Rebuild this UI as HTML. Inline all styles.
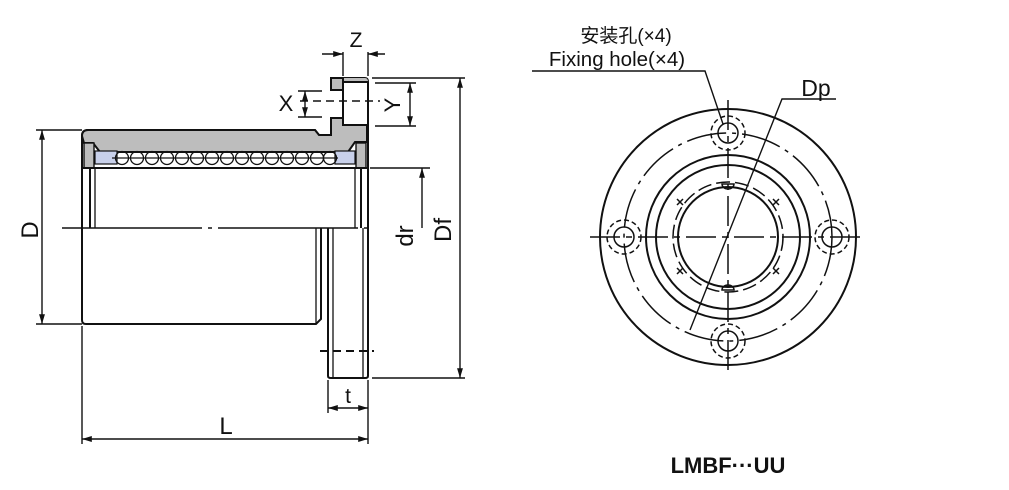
<!DOCTYPE html>
<html><head><meta charset="utf-8"><style>
html,body{margin:0;padding:0;background:#fff;width:1009px;height:490px;overflow:hidden}
svg{display:block}
text{font-family:"Liberation Sans","Noto Sans CJK SC",sans-serif;fill:#111}
</style></head><body>
<svg width="1009" height="490" viewBox="0 0 1009 490" xmlns="http://www.w3.org/2000/svg">
<defs>
<marker id="a" viewBox="0 0 10 10" refX="10" refY="5" markerWidth="7" markerHeight="7" orient="auto-start-reverse"><path d="M0,2 L10,5 L0,8 z" fill="#111"/></marker>
</defs>
<g stroke="#111" fill="none" stroke-width="2">
<path d="M82,228 L82,136 Q82,130 88,130 L315,130 L319,135 L331,135 L331,118 L343,118 L343,82 L331,82 L331,80 Q331,78 334,78 L365,78 Q368,78 368,82 L368,228" fill="none"/>
<path d="M82,136 Q82,130 88,130 L315,130 L319,135 L331,135 L331,118 L343,118 L343,125 L367,125 L367,142 L355,142 L348,152 L100,152 L93,143 L84,143 Z" fill="#bdbdbd"/>
<path d="M331,80 Q331,78 334,78 L365,78 Q368,78 368,82 L343,82 L331,82 Z" fill="#bdbdbd" stroke="none"/>
<rect x="331" y="78" width="12" height="12" fill="#bdbdbd"/>
<line x1="343" y1="82" x2="343" y2="125"/>
<line x1="343" y1="82" x2="368" y2="82"/>
<rect x="84" y="143" width="10" height="25" fill="#bdbdbd" stroke-width="1.4"/>
<rect x="356" y="143" width="10" height="25" fill="#bdbdbd" stroke-width="1.4"/>
<rect x="95" y="151" width="22" height="13" fill="#c8d0ea" stroke-width="1.2"/>
<rect x="335" y="151" width="20" height="13" fill="#c8d0ea" stroke-width="1.2"/>
<line x1="82" y1="168" x2="368" y2="168"/>
<line x1="90" y1="168" x2="90" y2="228"/>
<line x1="95" y1="168" x2="95" y2="228" stroke-width="1.3"/>
<line x1="355" y1="168" x2="355" y2="228" stroke-width="1.3"/>
<line x1="361" y1="168" x2="361" y2="228"/>
<g stroke-width="1.3">
<circle cx="122" cy="158" r="6.5"/><circle cx="137" cy="158" r="6.5"/><circle cx="152" cy="158" r="6.5"/><circle cx="167" cy="158" r="6.5"/><circle cx="182" cy="158" r="6.5"/><circle cx="197" cy="158" r="6.5"/><circle cx="212" cy="158" r="6.5"/><circle cx="227" cy="158" r="6.5"/><circle cx="242" cy="158" r="6.5"/><circle cx="257" cy="158" r="6.5"/><circle cx="272" cy="158" r="6.5"/><circle cx="287" cy="158" r="6.5"/><circle cx="302" cy="158" r="6.5"/><circle cx="317" cy="158" r="6.5"/><circle cx="330" cy="158" r="6.5"/>
<line x1="112" y1="158" x2="338" y2="158"/>
</g>
<path d="M82,228 L82,320 Q82,324 86,324 L316,324 L321,319 L321,228"/>
<line x1="316" y1="228" x2="316" y2="324" stroke-width="1.3"/>
<path d="M328,228 L328,376 Q328,378 331,378 L365,378 Q368,378 368,376 L368,228"/>
<line x1="333" y1="228" x2="333" y2="378" stroke-width="1.3"/>
<line x1="363" y1="228" x2="363" y2="378" stroke-width="1.3"/>
<line x1="320" y1="351" x2="374" y2="351" stroke-dasharray="8,5"/>
<line x1="300" y1="101" x2="380" y2="101" stroke-dasharray="8,5" stroke-width="1.4"/>
<line x1="62" y1="228" x2="372" y2="228" stroke-dasharray="140,6,4,6" stroke-width="1.5"/>
<g stroke-width="1.4">
<line x1="36" y1="130" x2="82" y2="130"/><line x1="36" y1="324" x2="82" y2="324"/>
<line x1="42" y1="130" x2="42" y2="324" marker-start="url(#a)" marker-end="url(#a)"/>
<line x1="82" y1="326" x2="82" y2="444"/><line x1="368" y1="380" x2="368" y2="444"/>
<line x1="82" y1="439" x2="368" y2="439" marker-start="url(#a)" marker-end="url(#a)"/>
<line x1="328" y1="380" x2="328" y2="413"/>
<line x1="328" y1="408" x2="368" y2="408" marker-start="url(#a)" marker-end="url(#a)"/>
<line x1="372" y1="78" x2="465" y2="78"/><line x1="372" y1="378" x2="465" y2="378"/>
<line x1="460" y1="78" x2="460" y2="378" marker-start="url(#a)" marker-end="url(#a)"/>
<line x1="370" y1="168" x2="430" y2="168"/>
<line x1="422" y1="228" x2="422" y2="168" marker-end="url(#a)"/>
<line x1="343" y1="52" x2="343" y2="76"/><line x1="368" y1="52" x2="368" y2="76"/>
<line x1="322" y1="54" x2="343" y2="54" marker-end="url(#a)"/><line x1="385" y1="54" x2="368" y2="54" marker-end="url(#a)"/>
<line x1="298" y1="91" x2="322" y2="91"/><line x1="298" y1="117" x2="322" y2="117"/>
<line x1="305" y1="91" x2="305" y2="117" marker-start="url(#a)" marker-end="url(#a)"/>
<line x1="375" y1="83" x2="416" y2="83"/><line x1="375" y1="126" x2="416" y2="126"/>
<line x1="410" y1="83" x2="410" y2="126" marker-start="url(#a)" marker-end="url(#a)"/>
</g>
</g>
<g font-size="24">
<text x="38" y="230" transform="rotate(-90 38 230)" text-anchor="middle">D</text>
<text x="226" y="434" text-anchor="middle">L</text>
<text x="348" y="403" text-anchor="middle" font-size="21">t</text>
<text x="356" y="47" text-anchor="middle" font-size="21">Z</text>
<text x="286" y="111" text-anchor="middle" font-size="22">X</text>
<text x="392" y="105" transform="rotate(-90 392 105)" text-anchor="middle" font-size="22" dy="8">Y</text>
<text x="413" y="236" transform="rotate(-90 413 236)" text-anchor="middle">dr</text>
<text x="451" y="230" transform="rotate(-90 451 230)" text-anchor="middle">Df</text>
</g>
<g stroke="#111" fill="none" stroke-width="2">
<circle cx="728" cy="237" r="128"/>
<circle cx="728" cy="237" r="104" stroke-dasharray="40,6,4,6" stroke-width="1.5"/>
<circle cx="728" cy="237" r="82"/>
<circle cx="728" cy="237" r="72"/>
<circle cx="728" cy="237" r="55" stroke-dasharray="14,5" stroke-width="1.5"/>
<circle cx="728" cy="237" r="50"/>
<g stroke-width="1.5">
<circle cx="728" cy="133" r="10"/><circle cx="728" cy="133" r="17" stroke-dasharray="5,3"/>
<circle cx="728" cy="341" r="10"/><circle cx="728" cy="341" r="17" stroke-dasharray="5,3"/>
<circle cx="624" cy="237" r="10"/><circle cx="624" cy="237" r="17" stroke-dasharray="5,3"/>
<circle cx="832" cy="237" r="10"/><circle cx="832" cy="237" r="17" stroke-dasharray="5,3"/>
<line x1="590" y1="237" x2="866" y2="237" stroke-dasharray="30,6,6,6"/>
<line x1="728" y1="100" x2="728" y2="374" stroke-dasharray="30,6,6,6"/>
<path d="M722,184 a6,5 0 0 0 12,0 z"/><path d="M722,290 a6,5 0 0 1 12,0 z"/>
<path d="M683,205 l-6,-6 m6,0 l-6,6"/><path d="M773,205 l6,-6 m-6,0 l6,6"/>
<path d="M683,268 l-6,6 m6,0 l-6,-6"/><path d="M773,268 l6,6 m-6,0 l6,-6"/>
</g>
<g stroke-width="1.4">
<polyline points="532,71 705,71 723,124"/>
<polyline points="836,99 782,99 690,330"/>
</g>
</g>
<text x="626" y="42" text-anchor="middle" font-size="19">安装孔(×4)</text>
<text x="617" y="66" text-anchor="middle" font-size="20.5">Fixing hole(×4)</text>
<text x="816" y="96" text-anchor="middle" font-size="23">Dp</text>
<text x="728" y="473" text-anchor="middle" font-size="22" font-weight="bold">LMBF···UU</text>
</svg>
</body></html>
